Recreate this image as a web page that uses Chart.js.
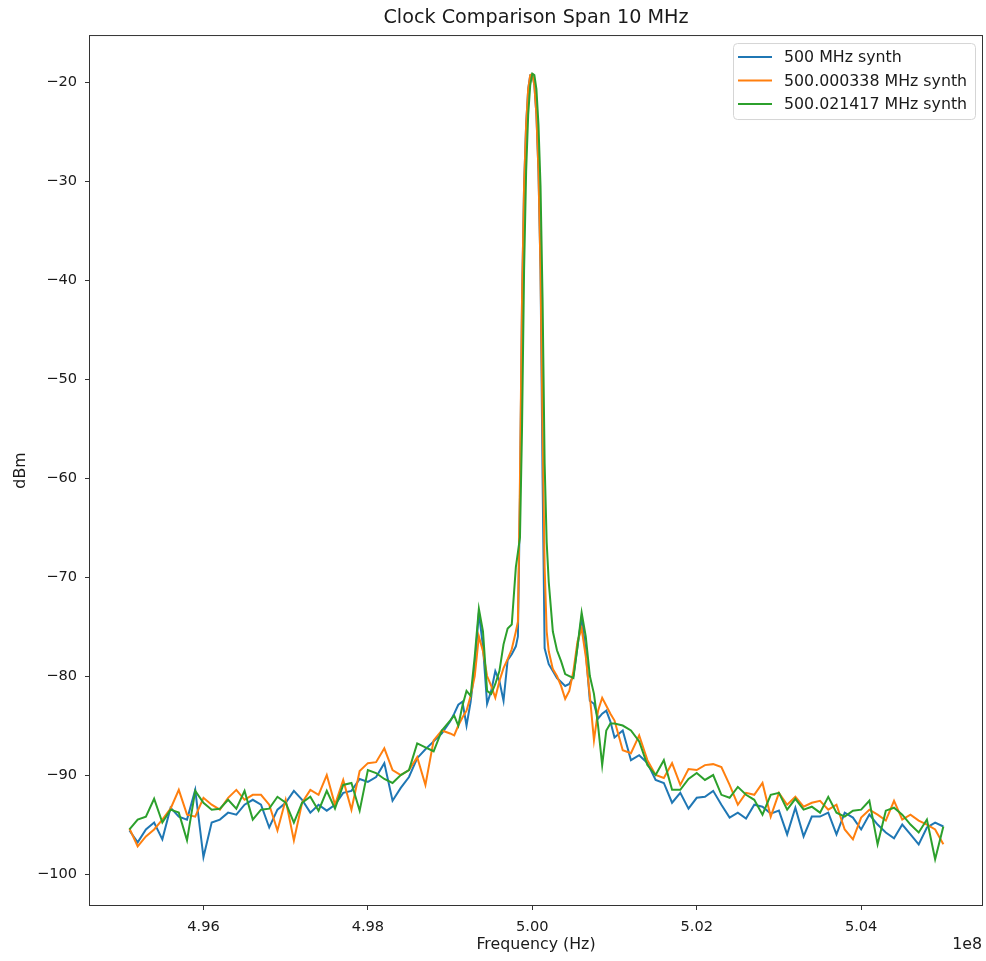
<!DOCTYPE html>
<html>
<head>
<meta charset="utf-8">
<title>Clock Comparison Span 10 MHz</title>
<script src="https://cdn.jsdelivr.net/npm/chart.js@4.4.1/dist/chart.umd.min.js"></script>
<style>
  html, body { margin: 0; padding: 0; background: #fff; }
</style>
</head>
<body>
<canvas id="grafico" width="986" height="961"></canvas>
<script>
// Frequência em MHz (o eixo mostra em unidades de 1e8 Hz)
const freqMHz = [
  495.1, 495.2, 495.3, 495.4, 495.5, 495.6, 495.7, 495.8, 495.9, 496.0,
  496.1, 496.2, 496.3, 496.4, 496.5, 496.6, 496.7, 496.8, 496.9, 497.0,
  497.1, 497.2, 497.3, 497.4, 497.5, 497.6, 497.7, 497.8, 497.9, 498.0,
  498.1, 498.2, 498.3, 498.4, 498.5, 498.6, 498.7, 498.8, 498.9, 499.0,
  499.05, 499.1, 499.15, 499.2, 499.25, 499.3, 499.35, 499.4, 499.45, 499.5,
  499.55, 499.6, 499.65, 499.7, 499.75,
  499.8, 499.825, 499.85, 499.875, 499.9, 499.925, 499.95, 499.975, 500.0,
  500.025, 500.05, 500.075, 500.1, 500.125, 500.15, 500.175, 500.2,
  500.25, 500.3, 500.35, 500.4, 500.45, 500.5, 500.55, 500.6, 500.65, 500.7,
  500.75, 500.8, 500.85, 500.9, 500.95,
  501.0, 501.1, 501.2, 501.3, 501.4, 501.5, 501.6, 501.7, 501.8, 501.9,
  502.0, 502.1, 502.2, 502.3, 502.4, 502.5, 502.6, 502.7, 502.8, 502.9,
  503.0, 503.1, 503.2, 503.3, 503.4, 503.5, 503.6, 503.7, 503.8, 503.9,
  504.0, 504.1, 504.2, 504.3, 504.4, 504.5, 504.6, 504.7, 504.8, 504.9,
  505.0
];

// dBm - sintetizador 500 MHz
const synth500 = [
  -95.6, -96.8, -95.5, -94.8, -96.5, -93.3, -94.2, -94.5, -91.5, -98.3,
  -94.8, -94.5, -93.8, -94.0, -93.0, -92.5, -93.0, -95.3, -93.5, -92.8,
  -91.6, -92.5, -93.8, -93.0, -93.6, -93.0, -91.8, -91.6, -90.4, -90.7,
  -90.2, -88.8, -92.6, -91.3, -90.2, -88.3, -87.4, -86.6, -85.8, -84.6,
  -83.8, -82.9, -82.6, -85.0, -82.6, -79.0, -73.6, -77.0, -82.8, -81.5,
  -79.5, -80.5, -82.5, -78.4, -77.8,
  -77.0, -76.0, -62.0, -42.0, -30.5, -24.3, -20.7, -19.3, -19.2,
  -20.3, -23.3, -29.0, -39.0, -60.0, -77.2, -78.0, -78.8,
  -79.5, -80.2, -80.6, -81.0, -80.8, -80.0, -77.0, -74.1, -77.5, -82.5,
  -82.8, -84.3, -83.8, -83.5, -84.6,
  -86.2, -85.5, -88.5, -88.0, -88.8, -90.5, -90.8, -92.8, -91.8, -93.4,
  -92.3, -92.2, -91.6, -93.0, -94.3, -93.8, -94.4, -93.0, -93.2, -93.9,
  -93.6, -96.0, -93.3, -96.2, -94.2, -94.2, -93.8, -96.0, -93.8, -94.3,
  -95.5, -94.0, -95.0, -95.8, -96.4, -95.0, -96.0, -97.0, -95.3, -94.8,
  -95.2
];

// dBm - sintetizador 500.000338 MHz
const synth500_000338 = [
  -95.4, -97.2, -96.2, -95.5, -94.5, -93.4, -91.5, -94.0, -94.2, -92.3,
  -93.0, -93.5, -92.3, -91.5, -92.5, -92.0, -92.0, -93.0, -95.6, -92.5,
  -96.6, -92.8, -91.5, -92.0, -90.0, -93.0, -90.5, -93.5, -89.6, -88.8,
  -88.7, -87.3, -89.5, -90.0, -89.5, -88.2, -91.0, -86.5, -85.5, -85.8,
  -86.0, -85.0, -84.2, -83.5, -82.0, -80.0, -76.0, -77.5, -80.0, -81.0,
  -82.2, -80.5, -79.2, -78.3, -77.3,
  -75.5, -74.5, -60.0, -42.0, -30.5, -24.3, -20.7, -19.3, -19.2,
  -20.3, -23.3, -29.0, -39.0, -55.0, -69.0, -75.5, -77.5,
  -79.3, -80.0, -81.0, -82.3, -81.5, -79.5, -76.5, -75.2, -78.0, -82.0,
  -86.5, -83.5, -82.2, -83.0, -83.8,
  -84.5, -87.5, -87.8, -86.0, -88.5, -90.0, -90.3, -88.8, -91.0, -89.4,
  -89.5, -89.0, -88.9, -89.2, -91.0, -93.0, -91.8, -92.0, -90.8, -94.2,
  -91.8, -93.0, -92.2, -93.2, -92.8, -92.6, -93.5, -93.0, -95.5, -96.5,
  -94.3, -93.5, -94.0, -94.6, -92.6, -94.5, -94.0, -94.6, -95.0, -95.5,
  -97.0
];

// dBm - sintetizador 500.021417 MHz
const synth500_021417 = [
  -95.5, -94.5, -94.2, -92.4, -94.8, -93.5, -93.8, -96.6, -91.6, -92.8,
  -93.5, -93.4, -92.5, -93.4, -91.6, -94.5, -93.5, -93.4, -92.2, -92.8,
  -94.8, -92.8, -92.2, -93.6, -91.6, -93.4, -91.0, -90.8, -93.6, -89.5,
  -89.8, -90.4, -90.8, -90.0, -89.5, -86.8, -87.2, -87.6, -85.5, -84.5,
  -84.0, -85.0, -83.0, -81.5, -82.0, -78.0, -73.2, -75.5, -81.5, -81.8,
  -80.8, -79.5, -76.8, -75.2, -74.8,
  -69.0, -67.5, -66.0, -55.0, -39.0, -29.0, -23.3, -20.3, -19.15,
  -19.3, -20.7, -24.3, -30.5, -42.0, -58.5, -66.5, -70.5,
  -75.5, -77.4, -78.5, -79.8, -80.0, -80.2, -77.0, -73.6, -76.0, -80.0,
  -81.8, -85.0, -89.0, -85.5, -84.8,
  -84.8, -85.0, -85.5, -86.6, -89.0, -90.0, -88.5, -91.5, -91.5, -90.4,
  -89.8, -90.5, -90.0, -92.0, -92.3, -91.2, -92.0, -92.5, -94.0, -92.0,
  -91.8, -93.5, -92.4, -93.5, -93.2, -93.8, -92.2, -93.8, -94.2, -93.6,
  -93.5, -92.6, -97.0, -93.6, -93.3, -94.0, -95.0, -95.8, -94.5, -98.5,
  -95.2
];

const rotulos = ['500 MHz synth', '500.000338 MHz synth', '500.021417 MHz synth'];
const cores = ['#1f77b4', '#ff7f0e', '#2ca02c'];
const ticksX = [496, 498, 500, 502, 504];
const ticksY = [-100, -90, -80, -70, -60, -50, -40, -30, -20];

const fonte = 'DejaVu Sans';
const corTexto = '#1a1a1a';
const tamTicks = 14.6;
const tamTexto = 15.8;

function pontos(valores) {
  return freqMHz.map((f, i) => ({ x: f, y: valores[i] }));
}

// moldura completa em volta da área do gráfico
const moldura = {
  id: 'moldura',
  afterDraw(chart) {
    const { ctx, chartArea: a } = chart;
    ctx.save();
    ctx.strokeStyle = '#333';
    ctx.lineWidth = 1;
    ctx.strokeRect(a.left - 0.5, a.top - 0.5, a.width + 1, a.height + 1);
    // texto do offset do eixo x
    ctx.fillStyle = corTexto;
    ctx.font = tamTexto + 'px "' + fonte + '"';
    ctx.textAlign = 'right';
    ctx.textBaseline = 'middle';
    ctx.fillText('1e8', a.right, 945);
    ctx.restore();
  }
};

// legenda dentro do gráfico, canto superior direito
const legendaInterna = {
  id: 'legendaInterna',
  afterDraw(chart) {
    const { ctx, chartArea: a } = chart;
    const x0 = a.right - 249, y0 = a.top + 7, w = 242, h = 76;
    ctx.save();
    ctx.beginPath();
    ctx.roundRect(x0 + 0.5, y0 + 0.5, w, h, 4);
    ctx.fillStyle = 'rgba(255,255,255,0.8)';
    ctx.fill();
    ctx.strokeStyle = '#d5d5d5';
    ctx.lineWidth = 1;
    ctx.stroke();
    ctx.font = tamTexto + 'px "' + fonte + '"';
    ctx.textBaseline = 'middle';
    ctx.textAlign = 'left';
    chart.data.datasets.forEach((ds, i) => {
      const y = y0 + 14 + i * 23.5;
      ctx.strokeStyle = ds.borderColor;
      ctx.lineWidth = 2;
      ctx.beginPath();
      ctx.moveTo(x0 + 5, y);
      ctx.lineTo(x0 + 39, y);
      ctx.stroke();
      ctx.fillStyle = corTexto;
      ctx.fillText(ds.label, x0 + 51, y + 1);
    });
    ctx.restore();
  }
};

const series = [synth500, synth500_000338, synth500_021417];

new Chart(document.getElementById('grafico'), {
  type: 'line',
  data: {
    datasets: series.map((s, i) => ({
      label: rotulos[i],
      data: pontos(s),
      borderColor: cores[i],
      backgroundColor: cores[i],
      borderWidth: 2,
      pointRadius: 0,
      tension: 0,
      fill: false,
      order: 3 - i
    }))
  },
  options: {
    responsive: false,
    animation: false,
    layout: { padding: { left: 0, right: 4, top: 0, bottom: 0 } },
    plugins: {
      legend: { display: false },
      tooltip: { enabled: false },
      title: {
        display: true,
        text: 'Clock Comparison Span 10 MHz',
        fullSize: false,
        color: corTexto,
        font: { family: fonte, size: 19.2, weight: 'normal' },
        padding: { top: 6.5, bottom: 6.5 }
      }
    },
    scales: {
      x: {
        type: 'linear',
        min: 494.62,
        max: 505.47,
        afterBuildTicks: (s) => { s.ticks = ticksX.map(v => ({ value: v })); },
        afterFit: (s) => { s.height = 56; },
        border: { display: false },
        grid: { drawOnChartArea: false, drawTicks: true, tickLength: 5, color: '#333' },
        ticks: {
          color: corTexto,
          font: { family: fonte, size: tamTicks },
          padding: 8,
          maxRotation: 0,
          callback: (v) => (v / 100).toFixed(2)
        },
        title: {
          display: true,
          text: 'Frequency (Hz)',
          color: corTexto,
          font: { family: fonte, size: tamTexto },
          padding: { top: 0, bottom: 6.5 }
        }
      },
      y: {
        min: -103.13,
        max: -15.35,
        afterBuildTicks: (s) => { s.ticks = ticksY.map(v => ({ value: v })); },
        afterFit: (s) => { s.width = 90; },
        border: { display: false },
        grid: { drawOnChartArea: false, drawTicks: true, tickLength: 5, color: '#333' },
        ticks: {
          color: corTexto,
          font: { family: fonte, size: tamTicks },
          padding: 8,
          callback: (v) => String(v).replace('-', '\u2212')
        },
        title: {
          display: true,
          text: 'dBm',
          color: corTexto,
          font: { family: fonte, size: tamTexto },
          padding: { top: 11, bottom: 0 }
        }
      }
    }
  },
  plugins: [moldura, legendaInterna]
});
</script>
</body>
</html>
